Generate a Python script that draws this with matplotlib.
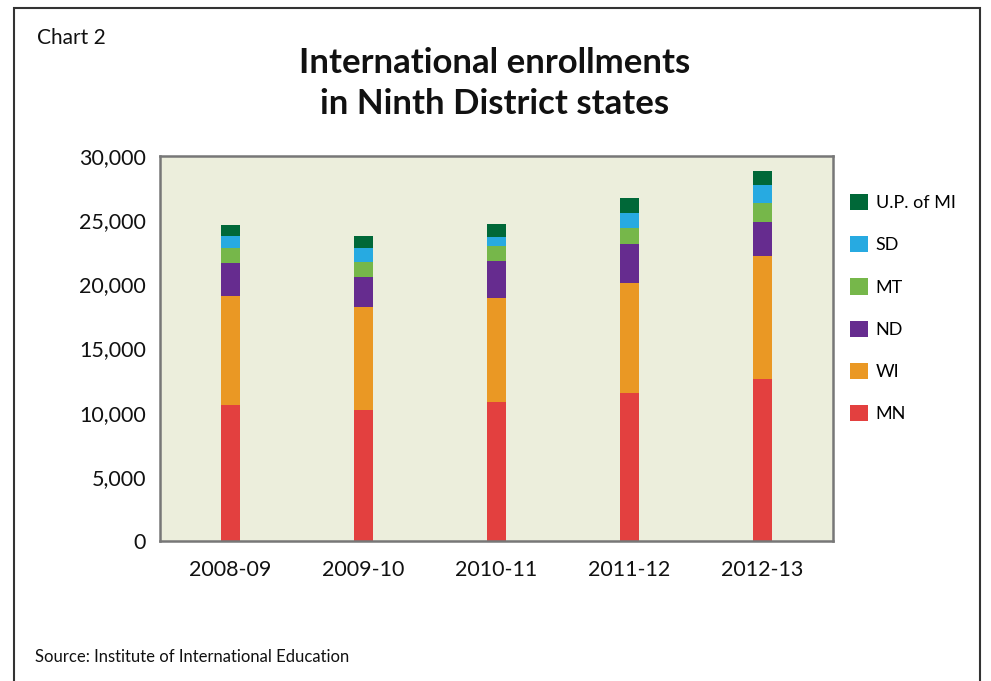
import matplotlib
matplotlib.use("Agg")
import matplotlib.pyplot as plt
from matplotlib.patches import Rectangle
from matplotlib.ticker import FuncFormatter

plt.rcParams["font.family"] = ["Lato", "DejaVu Sans"]

years = ["2008-09", "2009-10", "2010-11", "2011-12", "2012-13"]
states = ["MN", "WI", "ND", "MT", "SD", "U.P. of MI"]
colors = ["#E3403F", "#EA9824", "#662C8F", "#76B74A", "#27AAE1", "#006838"]

# enrollments
mn = [10600, 10180, 10810, 11510, 12600]
wi = [8490, 8030, 8100, 8570, 9580]
nd = [2580, 2340, 2880, 3040, 2650]
mt = [1190, 1170, 1170, 1250, 1490]
sd = [910, 1090, 700, 1170, 1400]
up_mi = [860, 930, 1020, 1160, 1090]
series = [mn, wi, nd, mt, sd, up_mi]

W, H = 991, 681
fig = plt.figure(figsize=(W / 100, H / 100), dpi=100)
ax = fig.add_axes([160 / W, 1 - 541 / H, 673 / W, 385 / H])
ax.set_facecolor("#ECEEDC")

x = list(range(len(years)))
bottom = [0] * len(years)
for name, vals, c in zip(states, series, colors):
    ax.bar(x, vals, width=0.15, bottom=bottom, color=c, label=name)
    bottom = [b + v for b, v in zip(bottom, vals)]

ax.set_ylim(0, 30000)
ax.set_xlim(-0.53, 4.53)
ax.set_yticks(range(0, 30001, 5000))
ax.yaxis.set_major_formatter(FuncFormatter(lambda v, p: f"{int(v):,}"))
ax.set_xticks(x)
ax.set_xticklabels(years)
ax.tick_params(length=0, labelsize=15.5, colors="#111111")
ax.tick_params(axis="y", pad=10)
ax.tick_params(axis="x", pad=14)
for s in ax.spines.values():
    s.set_color("#777777")
    s.set_linewidth(1.8)

# legend outside on the right, top entry first
handles, labels = ax.get_legend_handles_labels()
leg = ax.legend(handles[::-1], labels[::-1], loc="upper left",
                bbox_to_anchor=(1.015, 0.92), frameon=False, fontsize=13,
                handlelength=1.0, handleheight=1.0, handletextpad=0.4,
                labelspacing=1.38, borderaxespad=0)

fig.text(495 / W, 1 - 63 / H, "International enrollments", ha="center", va="center",
         fontsize=25, fontweight="bold", color="#111111")
fig.text(495 / W, 1 - 104 / H, "in Ninth District states", ha="center", va="center",
         fontsize=25, fontweight="bold", color="#111111")
fig.text(37 / W, 1 - 38 / H, "Chart 2", ha="left", va="center", fontsize=15,
         color="#111111")
fig.text(35 / W, 1 - 657 / H, "Source: Institute of International Education",
         ha="left", va="center", fontsize=12, color="#111111")

frame = Rectangle((14 / W, -0.05), 966 / W, 1.05 - 8 / H, transform=fig.transFigure,
                  fill=False, edgecolor="#333333", linewidth=1.5)
fig.patches.append(frame)

fig.savefig("out.png", dpi=100)
